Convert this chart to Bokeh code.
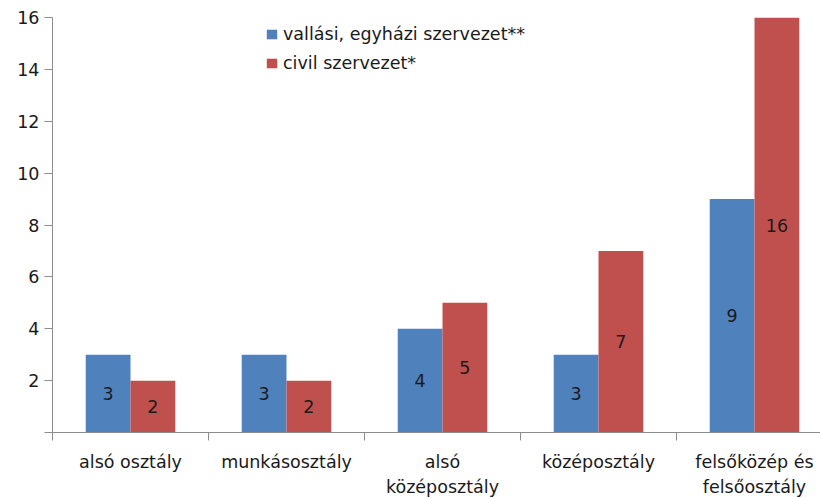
from bokeh.plotting import figure
from bokeh.models import (ColumnDataSource, Range1d, FixedTicker, LinearAxis,
                          Legend, LegendItem, LabelSet)
from bokeh.core.properties import value
from bokeh.embed import file_html
from bokeh.resources import INLINE

categories = ["alsó osztály", "munkásosztály", "alsó\nközéposztály",
              "középosztály", "felsőközép és\nfelsőosztály"]
vallasi = [3, 3, 4, 3, 9]
civil = [2, 2, 5, 7, 16]
series_names = ["vallási, egyházi szervezet**", "civil szervezet*"]
y_ticks = [0, 2, 4, 6, 8, 10, 12, 14, 16]

BLUE = "#4F81BD"
RED = "#C0504D"
GRID = "#8C8C8C"
TXT = "#1a1a1a"
FONT = "DejaVu Sans"
FS = "17.5px"

n = len(categories)
bar_w = 0.287
centers = [i + 0.5 for i in range(n)]

src_b = ColumnDataSource(dict(x=[c - bar_w / 2 for c in centers], top=vallasi,
                              ymid=[v / 2 for v in vallasi],
                              lbl=[str(v) for v in vallasi]))
src_r = ColumnDataSource(dict(x=[c + bar_w / 2 for c in centers], top=civil,
                              ymid=[v / 2 for v in civil],
                              lbl=[str(v) for v in civil]))

p = figure(frame_width=768, frame_height=415, output_backend="svg",
           toolbar_location=None, min_border_left=52, min_border_right=0,
           min_border_top=17, min_border_bottom=66,
           x_range=Range1d(0, 768 / 156), y_range=Range1d(0, 16),
           x_axis_type=None, y_axis_type=None)
p.outline_line_color = None
p.background_fill_color = "white"
p.border_fill_color = "white"

# y axis
yax = LinearAxis(ticker=FixedTicker(ticks=y_ticks, minor_ticks=[]))
yax.major_label_overrides = {0: ""}
yax.axis_line_color = GRID
yax.major_tick_line_color = GRID
yax.major_tick_out = 8
yax.major_tick_in = 0
yax.minor_tick_out = 0
yax.major_label_standoff = 5
yax.major_label_text_font = FONT
yax.major_label_text_font_size = FS
yax.major_label_text_color = TXT
p.add_layout(yax, "left")

# x axis: labels at group centers, tick marks at group boundaries
xax = LinearAxis(ticker=FixedTicker(ticks=centers,
                                    minor_ticks=list(range(n + 1))))
xax.major_label_overrides = {c: lab for c, lab in zip(centers, categories)}
xax.axis_line_color = GRID
xax.major_tick_line_color = None
xax.major_tick_out = 0
xax.major_tick_in = 0
xax.minor_tick_line_color = GRID
xax.minor_tick_out = 8
xax.minor_tick_in = 0
xax.major_label_standoff = 11
xax.major_label_text_font = FONT
xax.major_label_text_font_size = FS
xax.major_label_text_color = TXT
xax.major_label_text_line_height = 1.25
p.add_layout(xax, "below")

p.ygrid.ticker = FixedTicker(ticks=y_ticks)
p.ygrid.grid_line_color = GRID
p.ygrid.grid_line_width = 1
p.xgrid.grid_line_color = None

rb = p.vbar(x="x", top="top", bottom=0, width=bar_w, source=src_b,
            fill_color=BLUE, line_color=None)
rr = p.vbar(x="x", top="top", bottom=0, width=bar_w, source=src_r,
            fill_color=RED, line_color=None)

for s in (src_b, src_r):
    p.add_layout(LabelSet(x="x", y="ymid", text="lbl", source=s,
                          text_align="center", text_baseline="middle",
                          text_font=value(FONT), text_font_size=FS,
                          text_color=TXT))

legend = Legend(items=[LegendItem(label=series_names[0], renderers=[rb]),
                       LegendItem(label=series_names[1], renderers=[rr])],
                location=(213, 359))
legend.background_fill_alpha = 0
legend.border_line_color = None
legend.padding = 0
legend.margin = 0
legend.spacing = 9
legend.glyph_width = 13
legend.glyph_height = 12
legend.label_height = 20
legend.label_standoff = 5
legend.label_text_font = FONT
legend.label_text_font_size = FS
legend.label_text_color = TXT
p.add_layout(legend)

open("out.html", "w").write(file_html(p, INLINE))
